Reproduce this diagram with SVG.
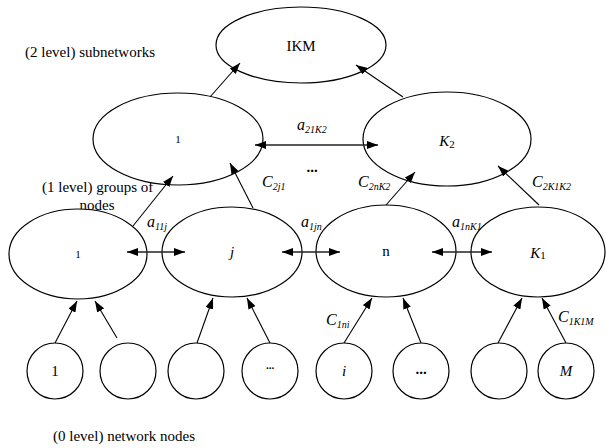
<svg xmlns="http://www.w3.org/2000/svg" width="606" height="448" viewBox="0 0 606 448">
<style>
.n{fill:#fff;stroke:#000;stroke-width:1.2}
.c{stroke:#000;stroke-width:1.1;fill:none}
.d{stroke:#222;stroke-width:1.5;fill:none}
text{font-family:"Liberation Serif","Times New Roman",serif;fill:#000}
.t{font-size:15px}
.i{font-style:italic}
.s{font-size:10px;font-style:italic}
.m{text-anchor:middle}
</style>
<defs>
<marker id="ah" markerUnits="userSpaceOnUse" markerWidth="12" markerHeight="8" refX="11" refY="4" orient="auto-start-reverse">
<path d="M0,0 L11,4 L0,8 z" fill="#000"/>
</marker>
</defs>
<g id="captions">
<text class="t" x="25" y="57">(2 level) subnetworks</text>
<text class="t" x="42" y="192">(1 level) groups of</text>
<text class="t m" x="97" y="210">nodes</text>
<text class="t" x="53" y="441">(0 level) network nodes</text>
</g>
<g id="IKM"><ellipse class="n" cx="301" cy="45" rx="85" ry="38"/><text class="t m" x="301" y="51">IKM</text></g>
<g id="L2_1"><ellipse class="n" cx="178" cy="139" rx="85" ry="46"/><text class="m" font-size="11" x="178" y="143">1</text></g>
<g id="L2_K2"><ellipse class="n" cx="447" cy="139" rx="84" ry="47"/><text class="t m" x="447" y="146"><tspan class="i">K</tspan><tspan font-size="11" dy="2">2</tspan></text></g>
<g id="L1_1"><ellipse class="n" cx="78" cy="254" rx="69" ry="45"/><text class="m" font-size="11" x="78" y="258">1</text></g>
<g id="L1_j"><ellipse class="n" cx="232" cy="252" rx="70" ry="45"/><text class="t m i" x="232" y="257">j</text></g>
<g id="L1_n"><ellipse class="n" cx="386" cy="251" rx="70" ry="46"/><text class="t m" x="386" y="256">n</text></g>
<g id="L1_K1"><ellipse class="n" cx="538" cy="252" rx="67" ry="45"/><text class="t m" x="538" y="258"><tspan class="i">K</tspan><tspan font-size="11" dy="1">1</tspan></text></g>
<g id="L0_1"><circle class="n" cx="55" cy="371" r="28"/><text class="t m" x="55" y="376">1</text></g>
<g id="L0_2"><circle class="n" cx="128" cy="371" r="28"/></g>
<g id="L0_3"><circle class="n" cx="196" cy="371" r="28"/></g>
<g id="L0_4"><circle class="n" cx="270" cy="371" r="28"/><text class="m" font-size="11" font-weight="bold" x="270" y="369">...</text></g>
<g id="L0_i"><circle class="n" cx="344" cy="371" r="28"/><text class="t m i" x="344" y="376">i</text></g>
<g id="L0_6"><circle class="n" cx="421" cy="371" r="28"/><text class="t m" font-weight="bold" x="421" y="374">...</text></g>
<g id="L0_7"><circle class="n" cx="499" cy="371" r="28"/></g>
<g id="L0_M"><circle class="n" cx="566" cy="371" r="28"/><text class="t m i" x="566" y="376">M</text></g>
<g id="connectors">
<line class="c" x1="210" y1="97" x2="240" y2="63" marker-end="url(#ah)"/>
<line class="c" x1="403" y1="97" x2="356" y2="65" marker-end="url(#ah)"/>
<line class="d" x1="255" y1="145" x2="378" y2="145" marker-start="url(#ah)" marker-end="url(#ah)"/>
<line class="c" x1="133" y1="226" x2="173" y2="176" marker-end="url(#ah)"/>
<line class="c" x1="253" y1="208" x2="230" y2="163" marker-end="url(#ah)"/>
<line class="c" x1="386" y1="205" x2="415" y2="172" marker-end="url(#ah)"/>
<line class="c" x1="539" y1="205" x2="498" y2="166" marker-end="url(#ah)"/>
<line class="d" x1="127" y1="252" x2="185" y2="252" marker-start="url(#ah)" marker-end="url(#ah)"/>
<line class="d" x1="282" y1="252" x2="340" y2="252" marker-start="url(#ah)" marker-end="url(#ah)"/>
<line class="d" x1="432" y1="252" x2="492" y2="252" marker-start="url(#ah)" marker-end="url(#ah)"/>
<line class="c" x1="55" y1="343" x2="77" y2="301" marker-end="url(#ah)"/>
<line class="c" x1="117" y1="338" x2="95" y2="301" marker-end="url(#ah)"/>
<line class="c" x1="197" y1="343" x2="213" y2="298" marker-end="url(#ah)"/>
<line class="c" x1="270" y1="343" x2="247" y2="298" marker-end="url(#ah)"/>
<line class="c" x1="344" y1="343" x2="372" y2="298" marker-end="url(#ah)"/>
<line class="c" x1="421" y1="343" x2="403" y2="298" marker-end="url(#ah)"/>
<line class="c" x1="498" y1="343" x2="522" y2="298" marker-end="url(#ah)"/>
<line class="c" x1="566" y1="343" x2="542" y2="298" marker-end="url(#ah)"/>
</g>
<g id="labels">
<text class="t" x="297" y="130"><tspan class="i" font-size="16">a</tspan><tspan class="s" dy="3">21K2</tspan></text>
<text class="t m" font-weight="bold" x="312" y="172">...</text>
<text class="t" x="262" y="187"><tspan class="i" font-size="16">C</tspan><tspan class="s" dy="3">2j1</tspan></text>
<text class="t" x="358" y="187"><tspan class="i" font-size="16">C</tspan><tspan class="s" dy="3">2nK2</tspan></text>
<text class="t" x="532" y="187"><tspan class="i" font-size="16">C</tspan><tspan class="s" dy="3">2K1K2</tspan></text>
<text class="t" x="147" y="227"><tspan class="i" font-size="16">a</tspan><tspan class="s" dy="3">11j</tspan></text>
<text class="t" x="301" y="227"><tspan class="i" font-size="16">a</tspan><tspan class="s" dy="3">1jn</tspan></text>
<text class="t" x="452" y="227"><tspan class="i" font-size="16">a</tspan><tspan class="s" dy="3">1nK1</tspan></text>
<text class="t" x="326" y="325"><tspan class="i" font-size="16">C</tspan><tspan class="s" dy="3">1ni</tspan></text>
<text class="t" x="558" y="322"><tspan class="i" font-size="16">C</tspan><tspan class="s" dy="3">1K1M</tspan></text>
</g>
</svg>
